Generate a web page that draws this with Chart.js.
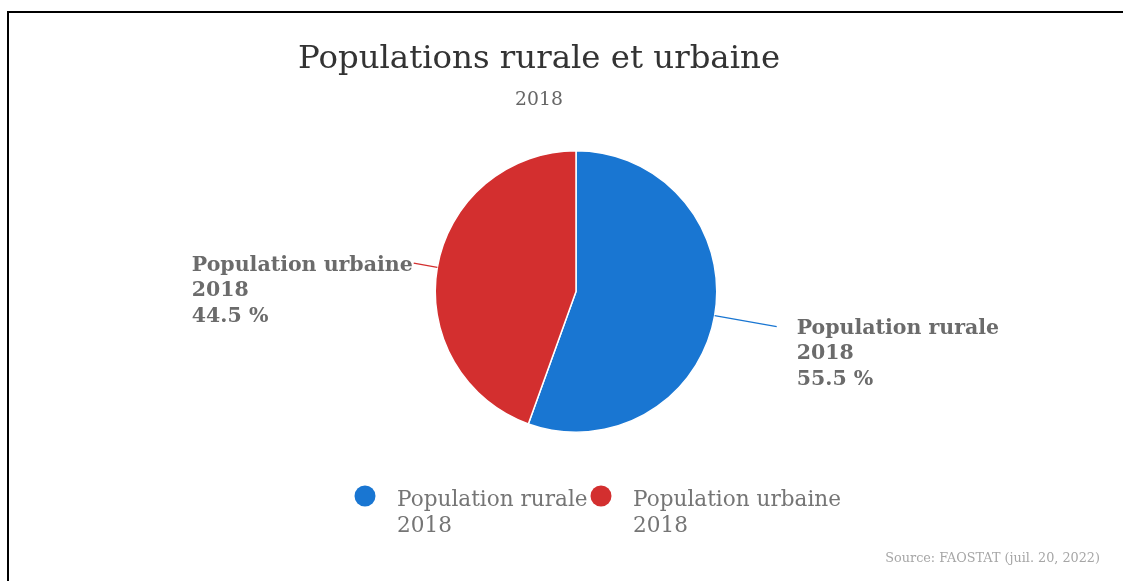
<!DOCTYPE html>
<html>
<head>
<meta charset="utf-8">
<script src="https://cdn.jsdelivr.net/npm/chart.js@4"></script>
<style>
  body { margin: 0; background: #fff; }
  #wrap { position: relative; width: 1123px; height: 581px; overflow: hidden; }
  #frame { position: absolute; left: 7px; top: 11px; width: 1200px; height: 700px;
           border-top: 2px solid #000; border-left: 2px solid #000; }
  canvas { position: absolute; left: 0; top: 0; }
</style>
</head>
<body>
<div id="wrap">
  <div id="frame"></div>
  <canvas id="pie" width="1123" height="581"></canvas>
</div>
<script>
const seriesNames = [['Population rurale', '2018'], ['Population urbaine', '2018']];
const shares = [55.5, 44.5];
const sliceColors = ['#1976d2', '#d32f2f'];
const chartTitle = 'Populations rurale et urbaine';
const chartSubtitle = '2018';
const sourceText = 'Source: FAOSTAT (juil. 20, 2022)';

const FONT = "'DejaVu Serif', 'Liberation Serif', serif";

// title, subtitle and credit line
const headerPlugin = {
    id: 'header',
    afterDraw(chart, args, opts) {
        const ctx = chart.ctx;
        ctx.save();
        ctx.textAlign = 'center';
        ctx.textBaseline = 'alphabetic';
        ctx.fillStyle = '#333333';
        ctx.font = '32.4px ' + FONT;
        ctx.fillText(chartTitle, opts.x, 68);
        ctx.fillStyle = '#666666';
        ctx.font = '18.8px ' + FONT;
        ctx.fillText(chartSubtitle, opts.x, 105);
        ctx.textAlign = 'right';
        ctx.fillStyle = '#a6a6a6';
        ctx.font = '12.8px ' + FONT;
        ctx.fillText(sourceText, 1100, 562);
        ctx.restore();
    }
};

// data labels with a connector line out of each slice
const sliceLabels = {
    id: 'sliceLabels',
    afterDatasetsDraw(chart, args, opts) {
        const ctx = chart.ctx;
        const meta = chart.getDatasetMeta(0);
        const values = chart.data.datasets[0].data;
        ctx.save();
        meta.data.forEach((arc, i) => {
            const p = arc.getProps(['x', 'y', 'startAngle', 'endAngle', 'outerRadius'], true);
            const mid = (p.startAngle + p.endAngle) / 2;
            const cos = Math.cos(mid), sin = Math.sin(mid);
            const r0 = p.outerRadius;
            const r1 = p.outerRadius + opts.lengths[i];
            const x0 = p.x + cos * r0, y0 = p.y + sin * r0;
            const x1 = p.x + cos * r1, y1 = p.y + sin * r1;
            ctx.strokeStyle = sliceColors[i];
            ctx.lineWidth = 1.3;
            ctx.beginPath();
            ctx.moveTo(x0, y0);
            ctx.lineTo(x1, y1);
            ctx.stroke();

            const lines = [seriesNames[i][0], seriesNames[i][1], values[i].toFixed(1) + ' %'];
            ctx.font = 'bold 20.5px ' + FONT;
            const w = Math.max(...lines.map(t => ctx.measureText(t).width));
            const left = cos >= 0 ? x1 + 20 : x1 - w - 1;
            ctx.fillStyle = '#6b6b6b';
            ctx.textAlign = 'left';
            ctx.textBaseline = 'middle';
            lines.forEach((t, k) => ctx.fillText(t, left, y1 + 2 + k * 25.5));
        });
        ctx.restore();
    }
};

// legend row under the pie, two lines per entry
const legendRow = {
    id: 'legendRow',
    afterDraw(chart, args, opts) {
        const ctx = chart.ctx;
        ctx.save();
        ctx.font = '21.6px ' + FONT;
        ctx.textAlign = 'left';
        ctx.textBaseline = 'alphabetic';
        opts.items.forEach((it, i) => {
            ctx.fillStyle = sliceColors[i];
            ctx.beginPath();
            ctx.arc(it.x, opts.y, 10.5, 0, Math.PI * 2);
            ctx.fill();
            ctx.fillStyle = '#757575';
            seriesNames[i].forEach((t, k) => ctx.fillText(t, it.x + 32, opts.y + 10 + k * 26));
        });
        ctx.restore();
    }
};

new Chart(document.getElementById('pie'), {
    type: 'pie',
    data: {
        labels: seriesNames.map(n => n.join(' ')),
        datasets: [{
            data: shares,
            backgroundColor: sliceColors,
            borderColor: '#ffffff',
            borderWidth: 1.5
        }]
    },
    options: {
        responsive: false,
        animation: false,
        events: [],
        layout: { padding: { top: 150, bottom: 148, left: 276, right: 247 } },
        plugins: {
            legend: { display: false },
            title: { display: false },
            tooltip: { enabled: false },
            header: { x: 539 },
            sliceLabels: { lengths: [63, 24] },
            legendRow: { y: 496, items: [{ x: 365 }, { x: 601 }] }
        }
    },
    plugins: [headerPlugin, sliceLabels, legendRow]
});
</script>
</body>
</html>
